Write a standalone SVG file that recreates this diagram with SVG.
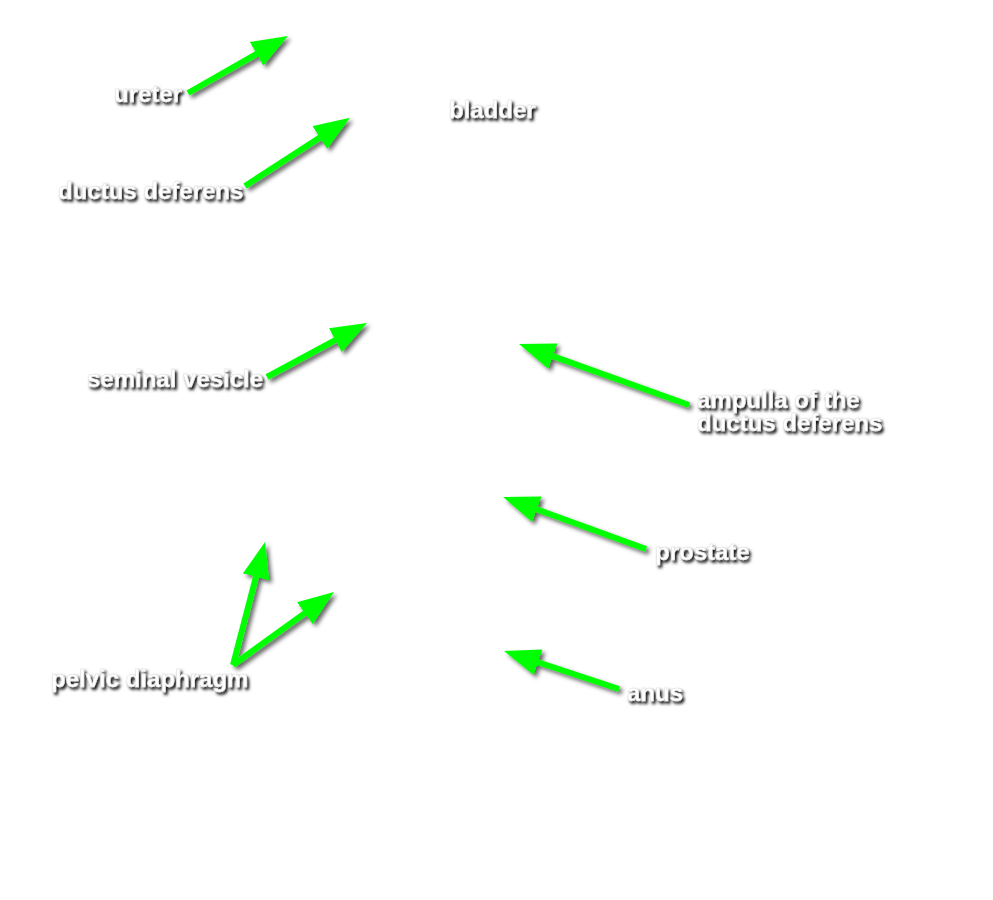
<svg xmlns="http://www.w3.org/2000/svg" width="993" height="900" viewBox="0 0 993 900">
<style>
.lbl{font-family:"Liberation Sans",Arial,sans-serif;font-weight:bold;font-size:24px;fill:#ffffff;stroke:#d8d8d8;stroke-width:0.4;filter:url(#tshadow);}
.arr{stroke:#00ff00;stroke-width:6;fill:none;marker-end:url(#head);}
</style>
<defs>
<filter id="tshadow" x="-20%" y="-50%" width="140%" height="200%">
<feDropShadow dx="2" dy="2.5" stdDeviation="1.4" flood-color="#000" flood-opacity="1"/>
</filter>
<filter id="ashadow" x="-20%" y="-20%" width="140%" height="140%">
<feDropShadow dx="3" dy="3" stdDeviation="2" flood-color="#000" flood-opacity="0.6"/>
</filter>
<marker id="head" markerUnits="userSpaceOnUse" markerWidth="36" markerHeight="27" refX="12" refY="13.5" orient="auto">
<polygon points="0,0 36,13.5 0,27" fill="#00ff00"/>
</marker>
</defs>
<rect width="993" height="900" fill="#ffffff"/>
<g id="connectors" filter="url(#ashadow)">
<path class="arr" d="M188,93 L267.1,47.9"/>
<path class="arr" d="M245,186 L329.9,130.9"/>
<path class="arr" d="M267,377 L345.9,334.4"/>
<path class="arr" d="M689,405 L541.6,352.1"/>
<path class="arr" d="M646,549 L525.6,505.2"/>
<path class="arr" d="M619,689 L526.8,658.5"/>
<path class="arr" d="M233,665 L259,565.2"/>
<path class="arr" d="M233,665 L314.5,606.1"/>
</g>
<g id="ureter"><text class="lbl" x="114" y="102">ureter</text></g>
<g id="bladder"><text class="lbl" x="449" y="118">bladder</text></g>
<g id="ductus-deferens"><text class="lbl" x="58" y="199">ductus deferens</text></g>
<g id="seminal-vesicle"><text class="lbl" x="87" y="387">seminal vesicle</text></g>
<g id="ampulla"><text class="lbl" x="697" y="408">ampulla of the</text><text class="lbl" x="697" y="431">ductus deferens</text></g>
<g id="prostate"><text class="lbl" x="655" y="560">prostate</text></g>
<g id="pelvic-diaphragm"><text class="lbl" x="51" y="687">pelvic diaphragm</text></g>
<g id="anus"><text class="lbl" x="627" y="701">anus</text></g>
</svg>
